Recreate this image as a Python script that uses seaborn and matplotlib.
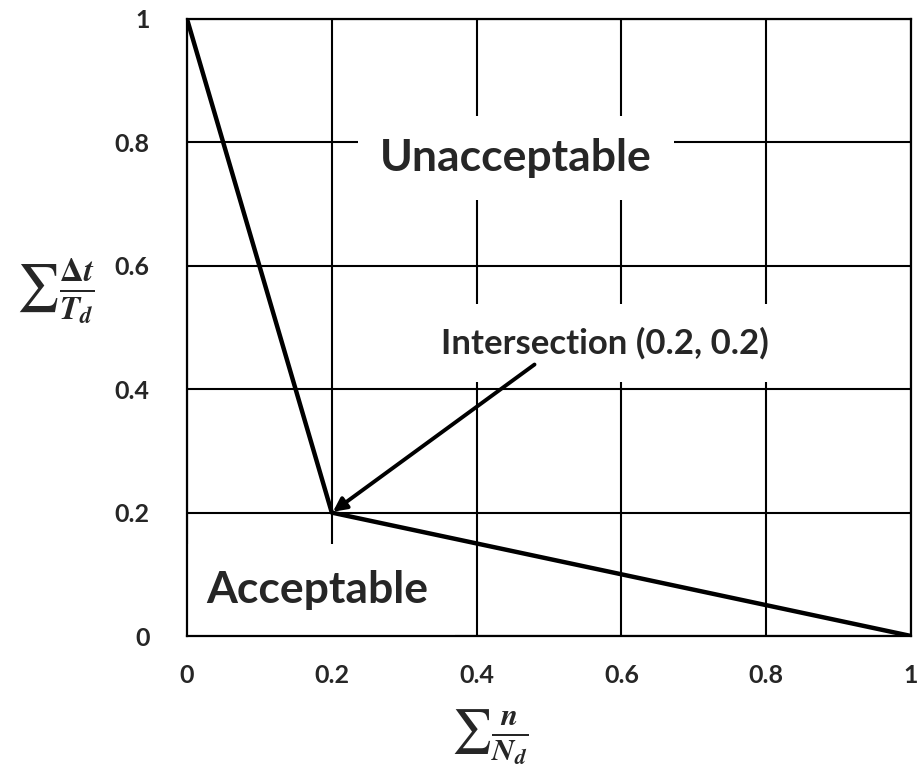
import matplotlib
matplotlib.use("Agg")
import matplotlib.pyplot as plt
import seaborn as sns
import pandas as pd

# Data
cycle_ratio = [0.0, 0.2, 1.0]      # sum n/N_d
time_ratio = [1.0, 0.2, 0.0]       # sum dt/T_d
tick_values = [0, 0.2, 0.4, 0.6, 0.8, 1]
tick_labels = ["0", "0.2", "0.4", "0.6", "0.8", "1"]
intersection = (0.2, 0.2)

sns.set_style("white")
plt.rcParams["font.family"] = ["Lato", "DejaVu Sans"]
plt.rcParams["mathtext.fontset"] = "stix"

fig = plt.figure(figsize=(9.2, 7.67), dpi=100)
ax = fig.add_axes([187 / 920, 1 - 636 / 767, (911 - 187) / 920, (636 - 19) / 767])

df = pd.DataFrame({"x": cycle_ratio, "y": time_ratio})
sns.lineplot(data=df, x="x", y="y", color="black", linewidth=3.2, ax=ax, zorder=2)

ax.set_xlim(0, 1)
ax.set_ylim(0, 1)
ax.set_xticks(tick_values)
ax.set_xticklabels(tick_labels)
ax.set_yticks(tick_values)
ax.set_yticklabels(tick_labels)
ax.tick_params(axis="both", length=0, labelsize=18)
ax.tick_params(axis="x", pad=20)
ax.tick_params(axis="y", pad=27)
for lab in ax.get_xticklabels() + ax.get_yticklabels():
    lab.set_fontweight("bold")

ax.set_axisbelow(True)
ax.grid(True, color="black", linewidth=1.5)
for s in ax.spines.values():
    s.set_color("black")
    s.set_linewidth(1.6)
    s.set_zorder(2.5)

ax.set_xlabel(r"$\sum\frac{\boldsymbol{n}}{\boldsymbol{N}_\boldsymbol{d}}$", fontsize=32, va="center")
ax.xaxis.set_label_coords(0.418, -0.164)
ax.set_ylabel(r"$\sum\frac{\boldsymbol{\Delta t}}{\boldsymbol{T}_\boldsymbol{d}}$", fontsize=34, rotation=0,
              va="center", ha="center")
ax.yaxis.set_label_coords(-0.182, 0.557)

ax.text(0.454, 0.775, "Unacceptable", fontsize=32, fontweight="bold",
        ha="center", va="center",
        bbox=dict(boxstyle="square,pad=0.5", facecolor="white", edgecolor="none"), zorder=1)
ax.text(0.18, 0.074, "Acceptable", fontsize=32, fontweight="bold",
        ha="center", va="center",
        bbox=dict(boxstyle="square,pad=0.6", facecolor="white", edgecolor="none"), zorder=1)

ax.text(0.577, 0.475, "Intersection (0.2, 0.2)", fontsize=25, fontweight="bold",
        ha="center", va="center",
        bbox=dict(boxstyle="square,pad=0.65", facecolor="white", edgecolor="none"), zorder=1)
ax.annotate("", xy=intersection, xytext=(0.48, 0.44), textcoords="data",
            arrowprops=dict(arrowstyle="-|>", color="black", lw=2.8, mutation_scale=20,
                            shrinkA=0, shrinkB=1),
            zorder=1.5)

fig.savefig("out.png", dpi=100, facecolor="white")
